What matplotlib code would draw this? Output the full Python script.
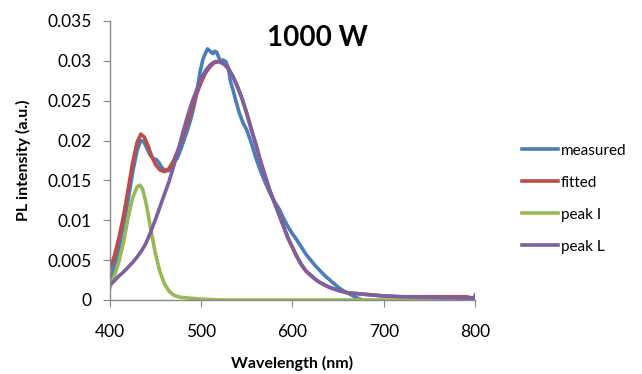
import numpy as np
import matplotlib.pyplot as plt

plt.rcParams['font.family'] = ['Lato', 'DejaVu Sans']

# measured spectrum
wl_meas = [400, 405, 410, 415, 420, 425, 430, 434, 437, 440, 444, 448, 451, 454, 457,
           460, 464, 467, 471, 474, 478, 482, 485, 489, 493, 496, 499, 502, 505, 507,
           509, 511, 513, 515, 517, 519, 521, 524, 527, 530, 532, 535, 538, 542, 546,
           550, 555, 560, 565, 570, 575, 580, 586, 590, 595, 600, 605, 610, 615, 620,
           625, 630, 635, 641, 645, 650, 655, 660, 665, 670, 674, 680, 750, 798, 800]
int_meas = [0.0020, 0.0042, 0.0064, 0.0092, 0.0125, 0.0160, 0.0188, 0.0200, 0.0199, 0.0192,
            0.0182, 0.0177, 0.0176, 0.0172, 0.0166, 0.0163, 0.0162, 0.0164, 0.0174, 0.0178,
            0.0190, 0.0203, 0.0213, 0.0228, 0.0247, 0.0266, 0.0287, 0.0302, 0.0310, 0.0315,
            0.0313, 0.0311, 0.0309, 0.0312, 0.0311, 0.0305, 0.0300, 0.0301, 0.0299, 0.0290,
            0.0275, 0.0263, 0.0250, 0.0234, 0.0222, 0.0213, 0.0197, 0.0178, 0.0162, 0.0148,
            0.0135, 0.0124, 0.0113, 0.0103, 0.0092, 0.0083, 0.0075, 0.0066, 0.0057, 0.0050,
            0.0043, 0.0037, 0.0031, 0.0025, 0.0021, 0.0016, 0.0012, 0.0009, 0.0006, 0.0003,
            0.0001, -0.0001, -0.0001, 0.0000, 0.0006]

# fitted sum
wl_fit = [400, 405, 410, 415, 420, 425, 430, 434, 438, 442, 446, 450, 455, 460, 465, 470,
          475, 480, 485, 490, 495, 500, 505, 510, 515, 520, 525, 530, 535, 540, 545, 550,
          555, 560, 565, 570, 575, 580, 585, 590, 595, 600, 605, 610, 615, 620, 625, 630,
          640, 650, 660, 670, 680, 700, 720, 760, 790, 800]
int_fit = [0.0038, 0.0055, 0.0078, 0.0105, 0.0138, 0.0172, 0.0198, 0.0208, 0.0204, 0.0193,
           0.0180, 0.0170, 0.0163, 0.0161, 0.0165, 0.0175, 0.0189, 0.0205, 0.0222, 0.0240,
           0.0258, 0.0273, 0.0285, 0.0293, 0.0298, 0.0299, 0.0296, 0.0290, 0.0280, 0.0267,
           0.0252, 0.0234, 0.0214, 0.0195, 0.0174, 0.0156, 0.0138, 0.0123, 0.0108, 0.0093,
           0.0078, 0.0066, 0.0054, 0.0044, 0.0036, 0.0031, 0.0026, 0.0022, 0.0016, 0.0012,
           0.0009, 0.0008, 0.0007, 0.0005, 0.0004, 0.0004, 0.0004, 0.0002]

# peak I
wl_pk1 = [400, 405, 410, 415, 420, 425, 430, 433, 436, 440, 445, 450, 455, 460, 465, 470,
          475, 480, 490, 500, 520, 800]
int_pk1 = [0.0015, 0.0030, 0.0048, 0.0072, 0.0103, 0.0128, 0.0142, 0.0144, 0.0139, 0.0120,
           0.0088, 0.0058, 0.0035, 0.0020, 0.0011, 0.0006, 0.0004, 0.0003, 0.0002, 0.0001,
           0.0, 0.0]

# peak L
wl_pkL = [400, 405, 410, 415, 420, 425, 430, 435, 440, 445, 450, 455, 460, 465, 470, 475,
          480, 485, 490, 495, 500, 505, 510, 515, 520, 525, 530, 535, 540, 545, 550, 555,
          560, 565, 570, 575, 580, 585, 590, 595, 600, 605, 610, 615, 620, 625, 630, 640,
          650, 660, 670, 680, 700, 720, 760, 800]
int_pkL = [0.0019, 0.0024, 0.0030, 0.0035, 0.0041, 0.0047, 0.0054, 0.0062, 0.0072, 0.0086,
           0.0101, 0.0117, 0.0133, 0.0149, 0.0168, 0.0188, 0.0210, 0.0230, 0.0248, 0.0263,
           0.0278, 0.0288, 0.0295, 0.0299, 0.0299, 0.0296, 0.0290, 0.0280, 0.0267, 0.0252,
           0.0234, 0.0214, 0.0195, 0.0174, 0.0156, 0.0138, 0.0123, 0.0108, 0.0093, 0.0078,
           0.0066, 0.0054, 0.0044, 0.0036, 0.0031, 0.0026, 0.0022, 0.0016, 0.0012, 0.0009,
           0.0008, 0.0007, 0.0005, 0.0004, 0.0003, 0.0002]

c_meas = '#4a7ebb'
c_fit = '#be4b48'
c_pk1 = '#98b954'
c_pkL = '#7d60a0'

fig = plt.figure(figsize=(6.42, 3.74), dpi=100)
ax = fig.add_axes([0.171, 0.198, 0.569, 0.746])

lw = 2.6
ax.plot(wl_meas, int_meas, color=c_meas, lw=lw, label='measured', solid_joinstyle='round')
ax.plot(wl_fit, int_fit, color=c_fit, lw=lw, label='fitted', solid_joinstyle='round')
ax.plot(wl_pk1, int_pk1, color=c_pk1, lw=lw, label='peak I', solid_joinstyle='round')
ax.plot(wl_pkL, int_pkL, color=c_pkL, lw=lw, label='peak L', solid_joinstyle='round')

ax.set_xlim(400, 800)
ax.set_ylim(0, 0.035)
ax.set_xticks([400, 500, 600, 700, 800])
ax.set_yticks(np.arange(0, 0.0351, 0.005))
ax.set_yticklabels(['0', '0.005', '0.01', '0.015', '0.02', '0.025', '0.03', '0.035'])

for s in ['top', 'right']:
    ax.spines[s].set_visible(False)
for s in ['left', 'bottom']:
    ax.spines[s].set_color('#888888')
    ax.spines[s].set_linewidth(1.0)

ax.tick_params(axis='both', colors='#888888', labelcolor='black', length=5,
               direction='out', labelsize=12.5)
ax.tick_params(axis='x', pad=12)
ax.tick_params(axis='y', pad=8)

ax.set_xlabel('Wavelength (nm)', fontsize=11.5, fontweight='bold', labelpad=12)
ax.set_ylabel('PL intensity (a.u.)', fontsize=11.5, fontweight='bold', labelpad=12)

fig.text(0.495, 0.898, '1000 W', fontsize=20, fontweight='bold', ha='center', va='center')

fig.legend(loc='upper left', bbox_to_anchor=(0.803, 0.632), frameon=False,
           fontsize=11, handlelength=2.4, handletextpad=0.15, labelspacing=1.18,
           borderaxespad=0)

fig.savefig('out.png', dpi=100)
